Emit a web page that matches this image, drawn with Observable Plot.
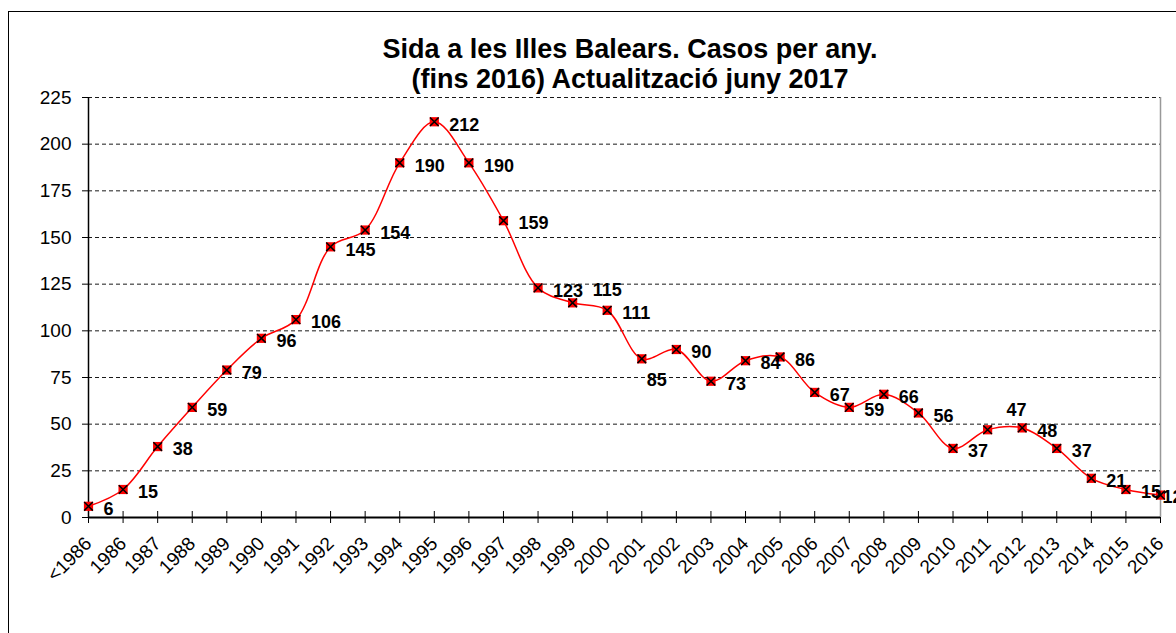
<!DOCTYPE html>
<html>
<head>
<meta charset="utf-8">
<script src="https://cdn.jsdelivr.net/npm/d3@7"></script>
<script src="https://cdn.jsdelivr.net/npm/@observablehq/plot@0.6"></script>
<style>
  html, body { margin: 0; padding: 0; background: #fff; overflow: hidden; }
  #wrap { position: relative; width: 1176px; height: 633px; overflow: hidden; font-family: "Liberation Sans", Arial, sans-serif; }
  #frame { position: absolute; left: 8px; top: 11px; width: 1300px; height: 800px; border: 1.5px solid #000; box-sizing: border-box; }
  #title { position: absolute; left: 330px; top: 34px; width: 600px; text-align: center; font-weight: bold; font-size: 27px; line-height: 30px; color: #000; white-space: nowrap; }
  #chart { position: absolute; left: 0; top: 0; }
</style>
</head>
<body>
<div id="wrap">
  <div id="frame"></div>
  <div id="chart"></div>
  <div id="title">Sida a les Illes Balears. Casos per any.<br>(fins 2016) Actualització juny 2017</div>
</div>
<script>
const categories = ["<1986","1986","1987","1988","1989","1990","1991","1992","1993","1994","1995","1996","1997","1998","1999","2000","2001","2002","2003","2004","2005","2006","2007","2008","2009","2010","2011","2012","2013","2014","2015","2016"];
const cases = [6,15,38,59,79,96,106,145,154,190,212,190,159,123,115,111,85,90,73,84,86,67,59,66,56,37,47,48,37,21,15,12];
const yTicks = [0,25,50,75,100,125,150,175,200,225];

const data = categories.map((c, i) => ({year: c, value: cases[i]}));

// label placement (default: right of the point), exceptions below
const defaultNudge = [15, 3];
const labelNudge = {"1999": [20, -13], "2001": [5, 21], "2011": [19, -20], "2016": [2, 2]};

const labelMarks = [
  Plot.text(data, {filter: d => !(d.year in labelNudge), x: "year", y: "value", text: d => String(d.value),
    dx: defaultNudge[0], dy: defaultNudge[1], textAnchor: "start", fontWeight: "bold", fontSize: 18, fill: "#000"})
];
for (const [k, [dx, dy]] of Object.entries(labelNudge)) {
  labelMarks.push(Plot.text(data, {filter: d => d.year === k, x: "year", y: "value", text: d => String(d.value),
    dx, dy, textAnchor: "start", fontWeight: "bold", fontSize: 18, fill: "#000"}));
}

const chart = Plot.plot({
  width: 1176,
  height: 633,
  marginLeft: 88,
  marginRight: 16,
  marginTop: 97,
  marginBottom: 116,
  style: {fontFamily: "'Liberation Sans', Arial, sans-serif", fontSize: "19px", color: "#000", background: "transparent", overflow: "visible"},
  x: {type: "point", domain: categories, padding: 0, round: false},
  y: {domain: [0, 225]},
  marks: [
    Plot.gridY(yTicks.filter(v => v > 0), {stroke: "#000", strokeOpacity: 0.9, strokeDasharray: "4,3"}),
    Plot.axisY(yTicks, {tickSize: 6, tickPadding: 11, fontSize: 19, stroke: "#000", label: null}),
    Plot.axisX({tickRotate: -45, tickSize: 6, tickPadding: 17, fontSize: 19, stroke: "#000", label: null}),
    Plot.axisX({tickSize: 6, dy: -6, tickFormat: () => "", stroke: "#000", label: null}),
    Plot.ruleX([categories[categories.length - 1]], {x: d => d, stroke: "#999", strokeWidth: 1.5}),
    Plot.ruleX([categories[0]], {x: d => d, stroke: "#000", strokeWidth: 1.5}),
    Plot.ruleY([0], {stroke: "#000", strokeWidth: 2}),
    Plot.line(data, {x: "year", y: "value", stroke: "#ff0000", strokeWidth: 1.5, curve: "catmull-rom"}),
    Plot.dot(data, {x: "year", y: "value", symbol: "square", r: 5.2, fill: "#ff0000", stroke: "none"}),
    Plot.dot(data, {x: "year", y: "value", symbol: "times", r: 4, stroke: "#000", strokeWidth: 1.5}),
    ...labelMarks
  ]
});
document.getElementById("chart").appendChild(chart);
</script>
</body>
</html>
